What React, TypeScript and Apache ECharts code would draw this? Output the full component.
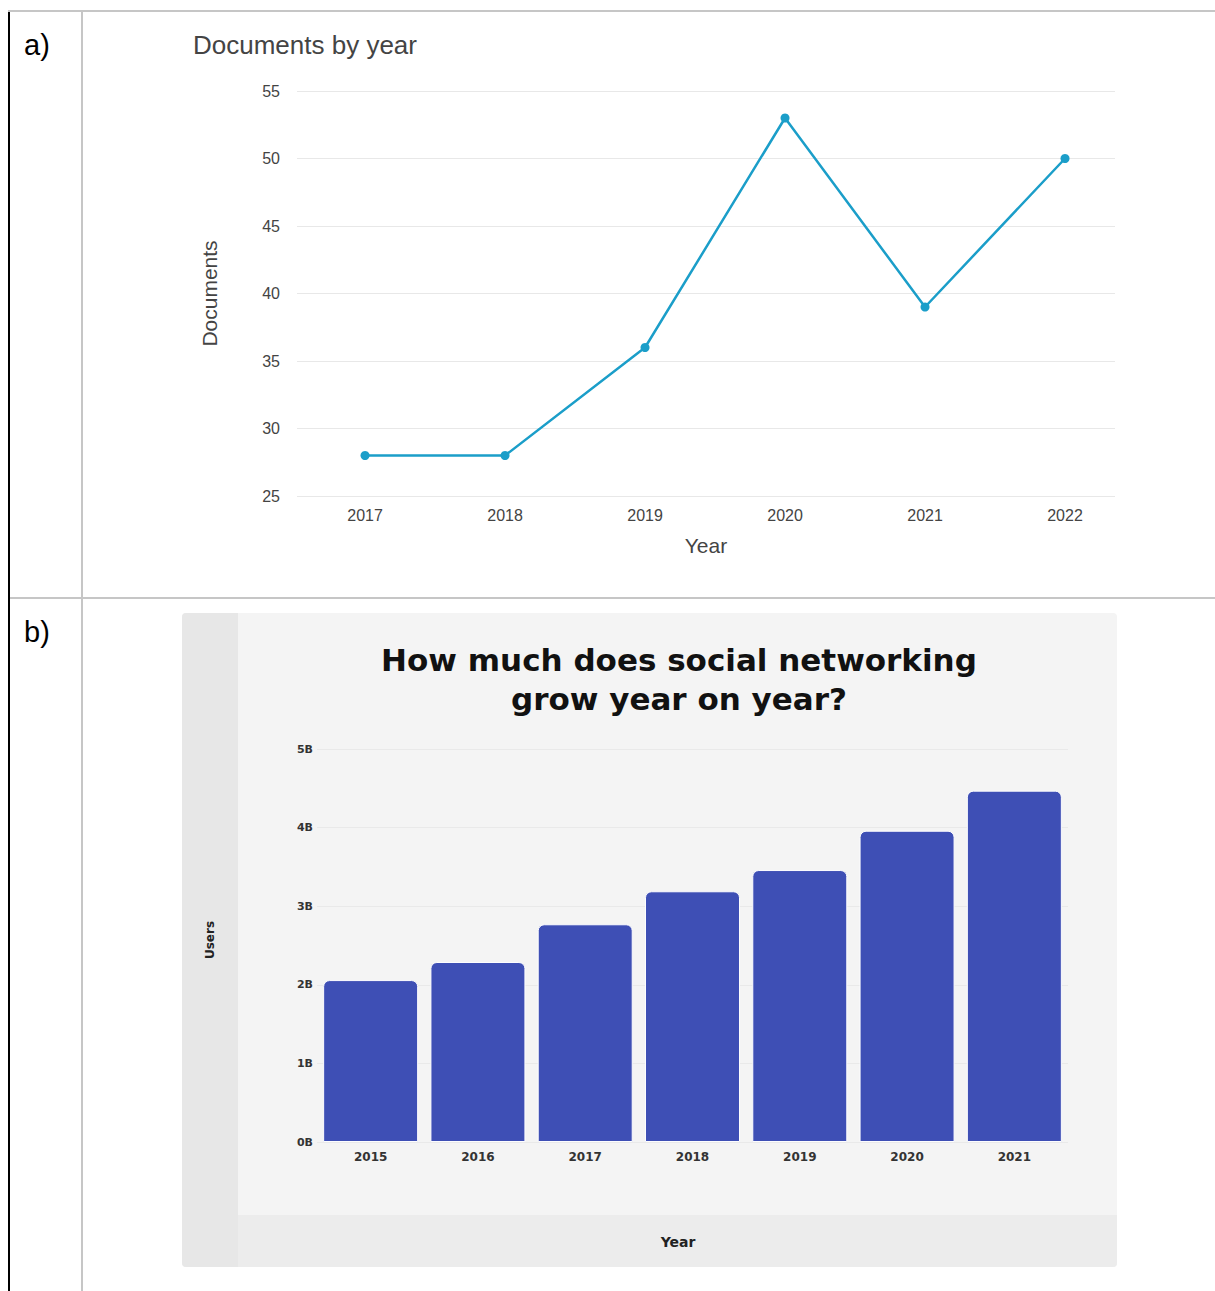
import React, { useEffect, useRef } from "react";
import * as echarts from "echarts";

const docYears = [2017, 2018, 2019, 2020, 2021, 2022];
const docCounts = [28, 28, 36, 53, 39, 50];

const userYears = ["2015", "2016", "2017", "2018", "2019", "2020", "2021"];
const userBillions = [2.06, 2.29, 2.77, 3.19, 3.46, 3.96, 4.47];

export default function App() {
  const ref = useRef<HTMLDivElement>(null);
  useEffect(() => {
    if (!ref.current) return;
    const chart = echarts.init(ref.current, null, { renderer: "svg" });
    const armFont = "Liberation Sans, Arial, sans-serif";
    const boldFont = "DejaVu Sans, Noto Sans, sans-serif";
    chart.setOption({
      animation: false,
      backgroundColor: "#ffffff",
      title: [
        {
          text: "Documents by year",
          left: 188,
          top: 27,
          textStyle: { fontFamily: armFont, fontSize: 26, fontWeight: "normal", color: "#444" },
        },
        {
          text: "How much does social networking\ngrow year on year?",
          left: 674,
          top: 635,
          textAlign: "center",
          textStyle: {
            fontFamily: boldFont,
            fontSize: 31,
            fontWeight: "bold",
            color: "#111",
            lineHeight: 39,
          },
        },
      ],
      graphic: [
        { type: "rect", z: -10, shape: { x: 182, y: 613, width: 935, height: 654, r: 4 }, style: { fill: "#f4f4f4" } },
        { type: "rect", z: -9, shape: { x: 182, y: 613, width: 56, height: 654, r: [4, 0, 0, 4] }, style: { fill: "#e7e7e7" } },
        { type: "rect", z: -9, shape: { x: 238, y: 1215, width: 879, height: 52, r: [0, 0, 4, 0] }, style: { fill: "#ececec" } },
        { type: "line", z: 5, shape: { x1: 9, y1: 11, x2: 9, y2: 1291 }, style: { stroke: "#000", lineWidth: 2 } },
        { type: "line", z: 5, shape: { x1: 8, y1: 11, x2: 1215, y2: 11 }, style: { stroke: "#c6c6c6", lineWidth: 2 } },
        { type: "line", z: 5, shape: { x1: 82, y1: 11, x2: 82, y2: 1291 }, style: { stroke: "#c6c6c6", lineWidth: 2 } },
        { type: "line", z: 5, shape: { x1: 10, y1: 598, x2: 1215, y2: 598 }, style: { stroke: "#c6c6c6", lineWidth: 2 } },
        { type: "text", z: 5, x: 24, y: 45, style: { text: "a)", font: "29px " + armFont, fill: "#000", verticalAlign: "middle" } },
        { type: "text", z: 5, x: 24, y: 632, style: { text: "b)", font: "29px " + armFont, fill: "#000", verticalAlign: "middle" } },
        {
          type: "text",
          z: 5,
          x: 210,
          y: 940,
          rotation: Math.PI / 2,
          style: { text: "Users", font: "bold 12px " + boldFont, fill: "#222", align: "center", verticalAlign: "middle" },
        },
        {
          type: "text",
          z: 5,
          x: 678,
          y: 1242,
          style: { text: "Year", font: "bold 14px " + boldFont, fill: "#222", align: "center", verticalAlign: "middle" },
        },
      ],
      grid: [
        { left: 297, right: 100, top: 91, height: 405, containLabel: false },
        { left: 317, right: 147, top: 749, height: 393, containLabel: false },
      ],
      xAxis: [
        {
          gridIndex: 0,
          type: "value",
          min: 2016.514,
          max: 2022.357,
          name: "Year",
          nameLocation: "middle",
          nameGap: 39,
          nameTextStyle: { fontFamily: armFont, fontSize: 21, color: "#444" },
          axisLine: { show: false },
          axisTick: { show: false },
          splitLine: { show: false },
          axisLabel: {
            customValues: docYears,
            formatter: (v: number) => String(v),
            fontFamily: armFont,
            fontSize: 16,
            color: "#444",
            margin: 11,
          },
        },
        {
          gridIndex: 1,
          type: "category",
          data: userYears,
          axisLine: { show: false },
          axisTick: { show: false },
          axisLabel: { fontFamily: boldFont, fontSize: 12, fontWeight: "bold", color: "#333", margin: 9 },
        },
      ],
      yAxis: [
        {
          gridIndex: 0,
          type: "value",
          min: 25,
          max: 55,
          interval: 5,
          name: "Documents",
          nameLocation: "middle",
          nameGap: 77,
          nameTextStyle: { fontFamily: armFont, fontSize: 21, color: "#444" },
          axisLine: { show: false },
          axisTick: { show: false },
          axisLabel: { fontFamily: armFont, fontSize: 16, color: "#444", margin: 17 },
          splitLine: { lineStyle: { color: "#e8e8e8", width: 1 } },
        },
        {
          gridIndex: 1,
          type: "value",
          min: 0,
          max: 5,
          interval: 1,
          axisLine: { show: false },
          axisTick: { show: false },
          axisLabel: {
            formatter: (v: number) => v + "B",
            fontFamily: boldFont,
            fontSize: 11,
            fontWeight: "bold",
            color: "#333",
            margin: 4,
          },
          splitLine: { lineStyle: { color: "#e9e9e9", width: 1 } },
        },
      ],
      series: [
        {
          type: "line",
          xAxisIndex: 0,
          yAxisIndex: 0,
          data: docYears.map((y, i) => [y, docCounts[i]]),
          symbol: "circle",
          symbolSize: 9,
          lineStyle: { color: "#1b9ec9", width: 2.5 },
          itemStyle: { color: "#1b9ec9" },
        },
        {
          type: "bar",
          xAxisIndex: 1,
          yAxisIndex: 1,
          data: userBillions,
          barWidth: 95,
          itemStyle: {
            color: "#3e4fb5",
            borderRadius: [6, 6, 0, 0],
            borderColor: "#fdfdff",
            borderWidth: 1,
          },
        },
      ],
    });
    return () => chart.dispose();
  }, []);
  return <div ref={ref} style={{ position: "absolute", left: 0, top: 0, width: 1215, height: 1291 }} />;
}
